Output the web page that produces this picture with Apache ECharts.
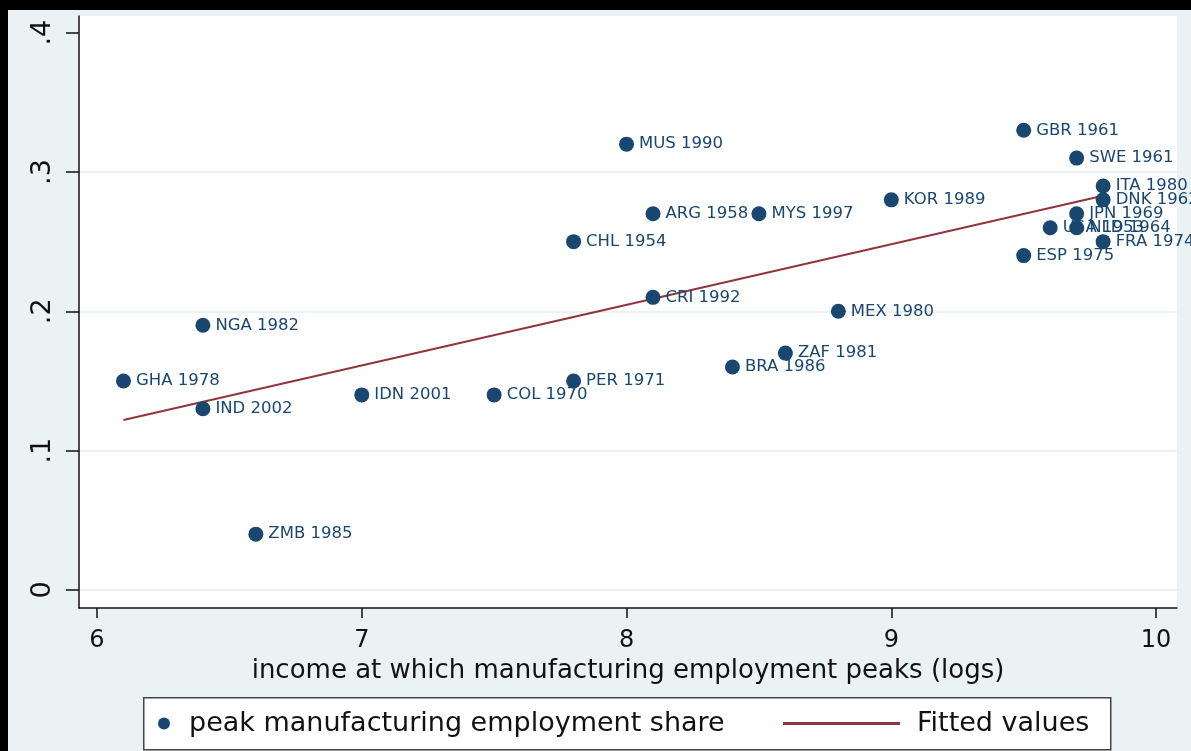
<!DOCTYPE html>
<html>
<head>
<meta charset="utf-8">
<script src="https://cdn.jsdelivr.net/npm/echarts@6/dist/echarts.min.js"></script>
<style>
    html, body { margin: 0; padding: 0; background: #000; }
    #chart { position: absolute; left: 8px; top: 10px; width: 1183px; height: 741px; background: #eaf2f3; }
</style>
</head>
<body>
<div id="chart"></div>
<script>
// peak manufacturing employment share vs income at peak (logs)
var countryLabels = ['GHA 1978', 'NGA 1982', 'IND 2002', 'ZMB 1985', 'IDN 2001', 'COL 1970', 'PER 1971',
    'CHL 1954', 'MUS 1990', 'ARG 1958', 'CRI 1992', 'MYS 1997', 'BRA 1986', 'ZAF 1981', 'MEX 1980',
    'KOR 1989', 'GBR 1961', 'SWE 1961', 'ITA 1980', 'DNK 1962', 'JPN 1969', 'USA 1953', 'NLD 1964',
    'FRA 1974', 'ESP 1975'];
var incomeLog = [6.1, 6.4, 6.4, 6.6, 7.0, 7.5, 7.8,
    7.8, 8.0, 8.1, 8.1, 8.5, 8.4, 8.6, 8.8,
    9.0, 9.5, 9.7, 9.8, 9.8, 9.7, 9.6, 9.7,
    9.8, 9.5];
var peakShare = [0.15, 0.19, 0.13, 0.04, 0.14, 0.14, 0.15,
    0.25, 0.32, 0.27, 0.21, 0.27, 0.16, 0.17, 0.20,
    0.28, 0.33, 0.31, 0.29, 0.28, 0.27, 0.26, 0.26,
    0.25, 0.24];

// fitted values (end points of the regression line)
var fitX = [6.1, 9.8];
var fitY = [0.122, 0.283];

var xTicks = [6, 7, 8, 9, 10];
var yTicks = [0, 0.1, 0.2, 0.3, 0.4];
var yTickLabels = ['0', '.1', '.2', '.3', '.4'];

var FONT = 'DejaVu Sans';
var NAVY = '#1a476f';
var MAROON = '#90353b';
var GRIDLINE = '#e3ecef';

var points = [];
for (var i = 0; i < countryLabels.length; i++) {
    points.push({ name: countryLabels[i], value: [incomeLog[i], peakShare[i]] });
}
var fitLine = [];
for (var j = 0; j < fitX.length; j++) {
    fitLine.push([fitX[j], fitY[j]]);
}

var chart = echarts.init(document.getElementById('chart'));
var option = {
    animation: false,
    backgroundColor: '#eaf2f3',
    grid: {
        left: 71, right: 14, top: 6, bottom: 143,
        show: true, backgroundColor: '#fff', borderWidth: 0,
        outerBoundsMode: 'none'
    },
    graphic: [{
        type: 'rect', left: 135, top: 687, z: 0,
        shape: { width: 967, height: 52 },
        style: { fill: '#fff', stroke: '#444', lineWidth: 1.5 }
    }],
    legend: [{
        data: ['peak manufacturing employment share'],
        left: 150, top: 700, padding: 0,
        icon: 'circle', itemWidth: 40, itemHeight: 12,
        selectedMode: false,
        textStyle: { fontSize: 27, color: '#111', fontFamily: FONT }
    }, {
        data: [{ name: 'Fitted values', icon: 'rect' }],
        left: 775, top: 700, padding: 0,
        itemWidth: 117, itemHeight: 3,
        selectedMode: false,
        textStyle: { fontSize: 27, color: '#111', fontFamily: FONT, padding: [0, 0, 0, 12] }
    }],
    xAxis: {
        type: 'value',
        min: 5.932, max: 10.079,
        name: 'income at which manufacturing employment peaks (logs)',
        nameLocation: 'middle', nameGap: 43,
        nameTextStyle: { fontSize: 26, color: '#111', fontFamily: FONT },
        axisLine: { show: true, onZero: false, lineStyle: { color: '#111', width: 1.5 } },
        axisTick: { show: true, length: 10, customValues: xTicks, lineStyle: { color: '#111', width: 1.5 } },
        axisLabel: { customValues: xTicks, fontSize: 24, color: '#111', fontFamily: FONT, margin: 21 },
        splitLine: { show: false }
    },
    yAxis: {
        type: 'value',
        min: -0.013, max: 0.412,
        axisLine: { show: true, onZero: false, lineStyle: { color: '#111', width: 1.5 } },
        axisTick: { show: true, length: 13, customValues: yTicks, lineStyle: { color: '#111', width: 1.5 } },
        axisLabel: {
            customValues: yTicks, rotate: 90, fontSize: 27, color: '#111', fontFamily: FONT, margin: 23,
            formatter: function (v) {
                var k = yTicks.indexOf(Math.round(v * 10) / 10);
                return k >= 0 ? yTickLabels[k] : '';
            }
        },
        // no gridline at the top tick (.4), like the original
        splitLine: { show: true, lineStyle: { color: [GRIDLINE, GRIDLINE, GRIDLINE, GRIDLINE, '#fff'], width: 1.5 } }
    },
    series: [{
        name: 'Fitted values',
        type: 'line',
        data: fitLine,
        symbol: 'none',
        z: 2,
        lineStyle: { color: MAROON, width: 2 },
        itemStyle: { color: MAROON }
    }, {
        name: 'peak manufacturing employment share',
        type: 'scatter',
        data: points,
        symbol: 'circle',
        symbolSize: 15,
        z: 3,
        itemStyle: { color: NAVY, opacity: 1 },
        label: {
            show: true, position: 'right', distance: 5,
            formatter: '{b}',
            fontSize: 16.5, color: NAVY, fontFamily: FONT,
            textBorderColor: 'transparent', textBorderWidth: 0
        }
    }]
};
chart.setOption(option);
</script>
</body>
</html>
